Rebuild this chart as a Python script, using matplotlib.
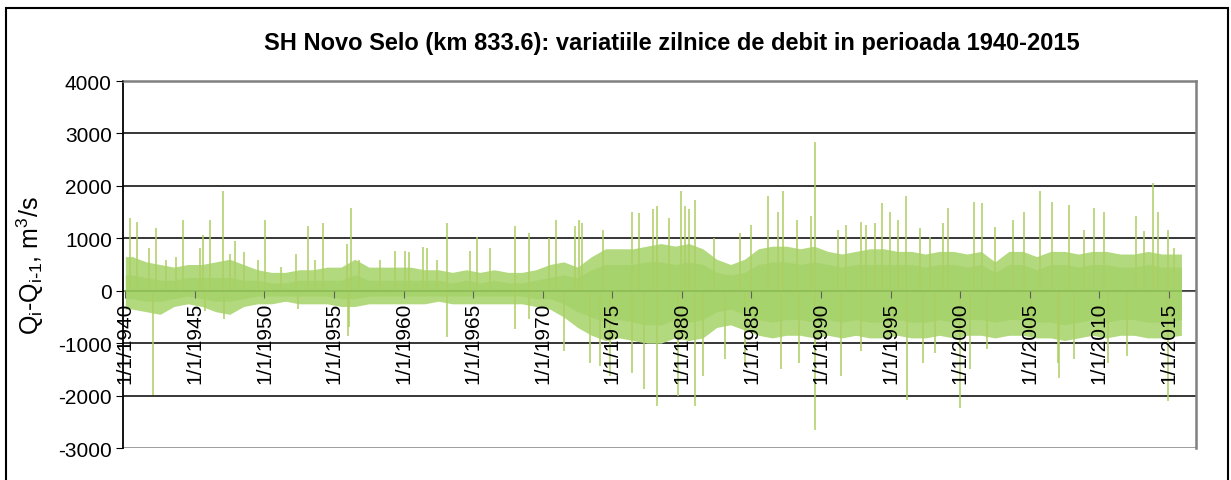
import numpy as np
import matplotlib.pyplot as plt
from matplotlib.patches import Rectangle

# ---------------- data ----------------
# yearly envelope of the daily variations (outer fuzz and dense core), m3/s
years = np.arange(1940, 2016)
body_upper = [650, 550, 500, 450, 500, 500, 550, 600, 500, 400,
              350, 350, 400, 400, 450, 450, 600, 450, 450, 450,
              450, 400, 400, 350, 400, 350, 400, 350, 350, 400,
              500, 550, 450, 650, 800, 800, 800, 850, 900, 850,
              900, 800, 600, 500, 600, 800, 850, 850, 800, 850,
              750, 700, 750, 800, 800, 750, 750, 700, 750, 750,
              700, 750, 550, 750, 750, 650, 750, 750, 700, 750,
              750, 700, 700, 750, 700, 700]
body_lower = [-350, -400, -450, -300, -250, -300, -400, -450, -300, -250,
              -250, -200, -250, -250, -250, -300, -300, -250, -250, -250,
              -250, -250, -200, -250, -250, -250, -250, -250, -250, -300,
              -350, -500, -700, -850, -950, -900, -950, -1000, -1000, -900,
              -950, -900, -700, -650, -750, -850, -900, -850, -850, -900,
              -850, -900, -850, -900, -900, -850, -900, -900, -850, -900,
              -850, -850, -900, -850, -850, -900, -900, -950, -900, -850,
              -900, -850, -850, -900, -900, -850]
core_upper = [300, 250, 200, 200, 250, 250, 250, 250, 200, 200,
              150, 150, 200, 200, 200, 200, 300, 200, 200, 200,
              200, 200, 200, 150, 200, 150, 200, 150, 150, 200,
              250, 300, 250, 400, 500, 500, 500, 550, 550, 500,
              550, 500, 350, 300, 350, 500, 550, 550, 500, 550,
              500, 450, 500, 500, 500, 500, 500, 450, 500, 500,
              450, 500, 350, 500, 500, 400, 500, 500, 450, 500,
              500, 450, 450, 500, 450, 450]
core_lower = [-150, -200, -200, -150, -100, -150, -200, -200, -150, -100,
              -100, -100, -100, -100, -100, -150, -150, -100, -100, -100,
              -100, -100, -100, -100, -100, -100, -100, -100, -100, -150,
              -150, -250, -400, -500, -600, -550, -600, -650, -650, -550,
              -600, -550, -400, -350, -450, -550, -600, -550, -550, -600,
              -550, -600, -550, -600, -600, -550, -600, -600, -550, -600,
              -550, -550, -600, -550, -550, -600, -600, -650, -600, -550,
              -600, -550, -550, -600, -600, -550]

# isolated peaks (decimal year, value)
peak_pos_t = [1940.35, 1940.85, 1941.7, 1942.2, 1942.9, 1943.65, 1944.15, 1945.35, 1945.6,
              1946.05, 1947.05, 1947.5, 1947.85, 1948.5, 1949.5, 1950.05, 1951.2, 1952.3,
              1953.1, 1953.65, 1954.2, 1955.9, 1956.25, 1956.8, 1958.3, 1959.4, 1960.1,
              1960.4, 1961.4, 1961.7, 1962.4, 1963.1, 1964.75,
              1965.3, 1966.2, 1968.0, 1969.0, 1970.45, 1970.97, 1972.3, 1972.6, 1972.8,
              1974.35, 1976.4, 1976.9, 1977.9, 1978.2, 1979.1, 1979.9, 1980.2, 1980.5,
              1980.95, 1982.3, 1984.2, 1985.0, 1986.2, 1986.9, 1987.3, 1988.3, 1989.3,
              1989.6, 1991.2, 1991.8, 1992.9, 1993.25, 1993.9, 1994.4, 1994.95, 1995.5,
              1996.1, 1997.1, 1997.8, 1998.8, 1999.1, 2001.0, 2001.6, 2002.5, 2003.8,
              2004.6, 2005.7, 2006.6, 2007.8, 2008.9, 2009.6, 2010.3, 2012.6, 2013.2,
              2013.85, 2014.2, 2014.9, 2015.4]
peak_pos_v = [1380, 1320, 810, 1190, 580, 650, 1350, 810, 1060,
              1350, 1900, 710, 950, 740, 580, 1350, 450, 710,
              1230, 580, 1290, 900, 1570, 580, 580, 760, 750,
              740, 840, 810, 580, 1290, 750,
              1030, 810, 1240, 1100, 1000, 1350, 1240, 1350, 1290,
              1160, 1510, 1480, 1550, 1610, 1390, 1900, 1610, 1550,
              1740, 1000, 1100, 1260, 1800, 1510, 1900, 1350, 1420,
              2830, 1160, 1260, 1320, 1260, 1290, 1670, 1510, 1350,
              1800, 1190, 1030, 1290, 1580, 1700, 1670, 1220, 1350,
              1510, 1900, 1700, 1640, 1160, 1580, 1510, 1420, 1130,
              2060, 1510, 1160, 810]
peak_neg_t = [1942.0, 1945.7, 1947.1, 1952.4, 1956.0, 1956.1, 1963.1, 1968.0, 1969.0,
              1971.55, 1973.4, 1974.1,
              1974.8, 1976.4, 1977.3, 1978.2, 1979.7, 1980.95, 1981.5, 1983.1, 1984.5,
              1987.1, 1988.4, 1989.6, 1991.45, 1992.9, 1996.2, 1997.3, 1998.2, 2000.0,
              2000.7, 2001.9, 2005.1, 2007.0, 2007.1, 2008.2, 2010.6, 2012.0, 2014.9]
peak_neg_v = [-1980, -380, -540, -350, -860, -700, -890, -730, -540,
              -1150, -1370, -1430,
              -1630, -1560, -1880, -2200, -2010, -2200, -1630, -1310, -1440,
              -1500, -1370, -2650, -1630, -1150, -2080, -1370, -1180, -2240,
              -1500, -1120, -860, -1370, -1660, -1310, -1370, -1240, -2110]

tick_years = list(range(1940, 2016, 5))
tick_labels = ["1/1/%d" % y for y in tick_years]
y_ticks = list(range(-3000, 4001, 1000))

title = "SH Novo Selo (km 833.6): variatiile zilnice de debit in perioada 1940-2015"

# ---------------- plot ----------------
plt.rcParams['font.family'] = ['Liberation Sans', 'DejaVu Sans']

fig = plt.figure(figsize=(12.31, 4.81), dpi=100)
ax = fig.add_axes([0.0999, 0.0665, 0.8717, 0.763])
ax.set_axisbelow(False)  # date labels are written over the band, as in Excel

# the series runs from 1/1/1940 to the end of 2015
t_body = years + 0.5
t_body[-1] = 2015.9
t_body = np.concatenate([[1940.0], t_body])


def pad(v):
    return np.concatenate([[v[0]], v])


ax.fill_between(t_body, pad(body_lower), pad(body_upper), color="#b2d97d", linewidth=0, zorder=2)
ax.fill_between(t_body, pad(core_lower), pad(core_upper), color="#a6d36b", linewidth=0, zorder=2.1)

ax.vlines(peak_pos_t, 0, peak_pos_v, color="#acce62", linewidth=1.1, zorder=2.2)
ax.vlines(peak_neg_t, 0, peak_neg_v, color="#acce62", linewidth=1.1, zorder=2.2)

# zero line showing through the band
ax.plot([t_body[0], t_body[-1]], [0, 0], color="#8cbc55", linewidth=1.2, zorder=2.3)

# gridlines under the data
for yv in y_ticks[1:-1]:
    ax.axhline(yv, color="black", linewidth=1.1, zorder=0.5)
ax.axhline(-3000, color="#808080", linewidth=1.8, zorder=0.6)

ax.spines['bottom'].set_position(('data', 0))
ax.spines['bottom'].set_color("#606060")
ax.spines['bottom'].set_zorder(1)
ax.spines['left'].set_color("black")
ax.spines['left'].set_linewidth(1.3)
for s in ['top', 'right']:
    ax.spines[s].set_color("#808080")
    ax.spines[s].set_linewidth(1.8)

ax.set_xlim(1939.83, 2016.95)
ax.set_ylim(-3000, 4000)
ax.set_yticks(y_ticks)
ax.set_yticklabels([str(v) for v in y_ticks], fontsize=15)
ax.set_xticks(tick_years)
ax.set_xticklabels(tick_labels, rotation=90, fontsize=15, va="top", ha="center")

ax.tick_params(axis='x', direction='out', length=5, pad=3, color="#606060")
ax.tick_params(axis='y', direction='out', length=5, pad=3)

ax.set_ylabel(r"Q$_\mathregular{i}$-Q$_{\mathregular{i}\text{-}\mathregular{1}}$, m$^\mathregular{3}$/s", fontsize=18)
ax.yaxis.set_label_coords(-0.072, 0.5)

fig.text(0.546, 0.91, title, fontsize=17, fontweight="bold", ha="center", va="center")

# outer chart frame
fig.patches.append(Rectangle((6 / 1231, -0.05), 1222 / 1231, 1.05 - 9 / 481,
                             transform=fig.transFigure, fill=False,
                             edgecolor="black", linewidth=1.5))

fig.savefig("out.png", dpi=100)
